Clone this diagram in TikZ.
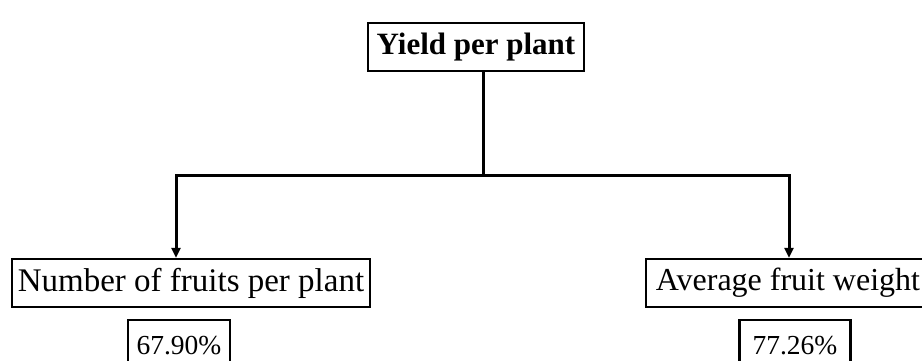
\documentclass[tikz,border=0pt]{standalone}
\usepackage{fontspec}
\setmainfont{Liberation Serif}
\usetikzlibrary{arrows.meta}
\begin{document}
\begin{tikzpicture}[x=1pt,y=-1pt,
  box/.style={draw=black,line width=2.4pt,inner sep=0pt,anchor=center},
  link/.style={line width=3pt},
  arr/.style={link,-{Triangle[length=10pt,width=9pt]}}]
\useasboundingbox (0,0) rectangle (922,361);
\clip (0,0) rectangle (922,361);
% root
\node[box,minimum width=216pt,minimum height=48pt,font=\fontsize{31}{36}\selectfont\bfseries]
  (root) at (476,47) {Yield per plant};
% children
\node[box,minimum width=358pt,minimum height=48pt,font=\fontsize{33}{38}\selectfont]
  (nfp) at (191,283) {Number of fruits per plant};
\node[box,minimum width=278pt,minimum height=48pt,font=\fontsize{32}{38}\selectfont]
  (afw) at (785,283) {\hspace*{6pt}Average fruit weight};
% percentages
\node[box,minimum width=102pt,minimum height=50pt,font=\fontsize{27.5}{32}\selectfont,anchor=north]
  (p1) at (179,319) {\raisebox{-4pt}{67.90\%}};
\node[box,minimum width=111pt,minimum height=50pt,font=\fontsize{27.5}{32}\selectfont,anchor=north]
  (p2) at (795,319) {\raisebox{-4pt}{77.26\%}};
% connectors
\coordinate (split) at (483,175);
\coordinate (lt) at (176,175);
\coordinate (rt) at (789,175);
\draw[link] (483,0 |- root.south) -- (split);
\draw[link,line cap=rect] (lt) -- (rt);
\draw[arr] (lt) -- (lt |- nfp.north);
\draw[arr] (rt) -- (rt |- afw.north);
\end{tikzpicture}
\end{document}
